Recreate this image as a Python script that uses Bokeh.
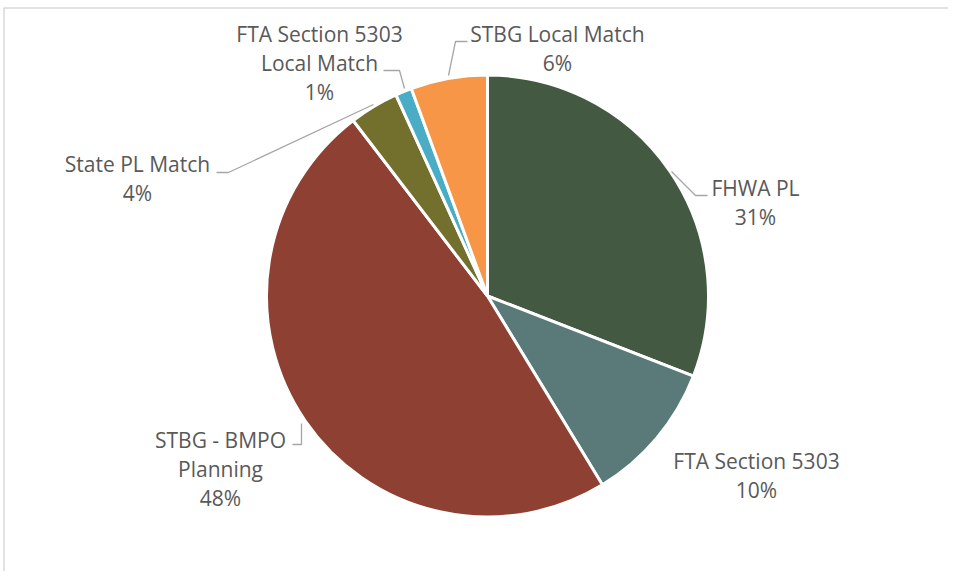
from bokeh.plotting import figure
from bokeh.models import Range1d, ColumnDataSource
from bokeh.embed import file_html
from bokeh.resources import INLINE
from bokeh.core.properties import value
import math

# ---- data ----
categories = ["FHWA PL", "FTA Section 5303", "STBG - BMPO Planning",
              "State PL Match", "FTA Section 5303 Local Match", "STBG Local Match"]
shares = [30.9, 10.4, 48.3, 3.6, 1.2, 5.6]
pct_labels = ["31%", "10%", "48%", "4%", "1%", "6%"]
label_lines = [["FHWA PL"], ["FTA Section 5303"], ["STBG - BMPO", "Planning"],
               ["State PL Match"], ["FTA Section 5303", "Local Match"], ["STBG Local Match"]]
colors = ["#435941", "#5a7a7a", "#8e4132", "#73702e", "#4bacc6", "#f79646"]

# ---- layout (screen px) ----
W, H = 948, 571
CX, CY, R = 487, 295.5, 221
label_xy = [(755, 188), (756, 461), (220, 440), (137, 164), (319, 34), (557, 34)]
LINE_H = 29
leaders = [
    [(671, 171), (695, 195), (707, 195)],
    None,
    [(292, 444), (301, 444), (301, 423)],
    [(216, 172), (228, 172), (373, 104)],
    [(383, 70), (399, 70), (404, 88)],
    [(448, 75), (455, 41), (467, 41)],
]

def Y(sy):
    return H - sy

p = figure(width=W, height=H, output_backend="svg", toolbar_location=None,
           x_range=Range1d(0, W), y_range=Range1d(0, H), min_border=0)
p.axis.visible = False
p.grid.visible = False
p.outline_line_color = None
p.background_fill_color = "white"

# border (top and left visible in reference)
p.line([3, W], [Y(7.5), Y(7.5)], line_color="#d9d9d9", line_width=1.5)
p.line([3.5, 3.5], [Y(7.5), Y(H)], line_color="#d9d9d9", line_width=1.5)

total = sum(shares)
starts, ends = [], []
cum = 0.0
for s in shares:
    a = cum / total
    cum += s
    b = cum / total
    starts.append(math.pi / 2 - 2 * math.pi * b)
    ends.append(math.pi / 2 - 2 * math.pi * a)

src = ColumnDataSource(dict(start=starts, end=ends, color=colors, cat=categories))
p.wedge(x=CX, y=Y(CY), radius=R, radius_units="screen", start_angle="start",
        end_angle="end", direction="anticlock", fill_color="color",
        line_color="white", line_width=3, source=src)

for ld in leaders:
    if ld:
        p.line([q[0] for q in ld], [Y(q[1]) for q in ld], line_color="#a6a6a6", line_width=1.3)

tx, ty, tt = [], [], []
for (lx, ly), lines, pct in zip(label_xy, label_lines, pct_labels):
    for i, t in enumerate(lines + [pct]):
        tx.append(lx)
        ty.append(Y(ly + i * LINE_H - 0.5))
        tt.append(t)
p.text(x=tx, y=ty, text=tt, text_align="center", text_baseline="alphabetic",
       text_font=value("Open Sans"), text_font_size="21px", text_color="#595959")

open("out.html", "w").write(file_html(p, INLINE))
